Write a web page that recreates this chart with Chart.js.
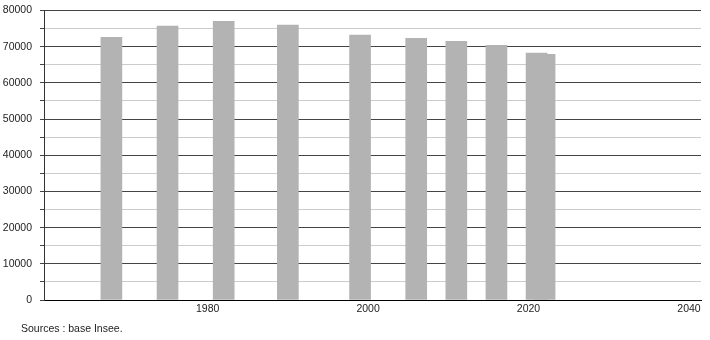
<!DOCTYPE html>
<html>
<head>
<meta charset="utf-8">
<script src="https://cdn.jsdelivr.net/npm/chart.js@4/dist/chart.umd.min.js"></script>
<style>
  html, body { margin: 0; padding: 0; background: #fff; }
  #wrap { position: relative; width: 710px; height: 340px; }
  #note {
    position: absolute; left: 21px; top: 322px;
    font: 10.5px "Liberation Sans", Arial, sans-serif; color: #222;
  }
</style>
</head>
<body>
<div id="wrap">
  <canvas id="chart" width="710" height="340"></canvas>
  <div id="note">Sources : base Insee.</div>
</div>
<script>
// années de recensement et population
const years = [1968, 1975, 1982, 1990, 1999, 2006, 2011, 2016, 2021, 2022];
const population = [72600, 75700, 77000, 76000, 73200, 72300, 71500, 70400, 68200, 67900];
const xTicks = [1980, 2000, 2020, 2040];

const fontFamily = '"Liberation Sans", Arial, sans-serif';

const points = years.map((y, i) => ({x: y, y: population[i]}));

new Chart(document.getElementById('chart'), {
    type: 'bar',
    data: {
        datasets: [{
            data: points,
            backgroundColor: '#b3b3b3',
            borderWidth: 0,
            barThickness: 21
        }]
    },
    options: {
        responsive: false,
        animation: false,
        layout: {padding: {top: 10.5, right: 9, left: 0, bottom: 0}},
        plugins: {legend: {display: false}, tooltip: {enabled: false}},
        scales: {
            x: {
                type: 'linear',
                min: 1959.6,
                max: 2041.5,
                offset: false,
                afterBuildTicks: axis => { axis.ticks = xTicks.map(v => ({value: v})); },
                afterFit: axis => {
                    axis.height = 40;
                    axis.paddingLeft = 0;
                    axis.paddingRight = 0;
                },
                grid: {display: false, drawTicks: false},
                border: {display: true, color: '#000', width: 1},
                ticks: {
                    padding: 3,
                    maxRotation: 0,
                    color: '#222',
                    font: {family: fontFamily, size: 10.5},
                    callback: v => String(v)
                }
            },
            y: {
                min: 0,
                max: 80000,
                afterFit: axis => {
                    axis.width = 44;
                    axis.paddingTop = 0;
                    axis.paddingBottom = 0;
                },
                border: {display: true, color: '#333', width: 1},
                grid: {
                    color: ctx => (ctx.tick && ctx.tick.value % 10000 === 0) ? '#444' : '#cccccc',
                    tickColor: '#444',
                    tickLength: 4,
                    lineWidth: 1
                },
                ticks: {
                    stepSize: 5000,
                    padding: 8,
                    color: '#222',
                    font: {family: fontFamily, size: 10.5},
                    callback: v => (v % 10000 === 0 ? String(v) : '')
                }
            }
        }
    }
});
</script>
</body>
</html>
